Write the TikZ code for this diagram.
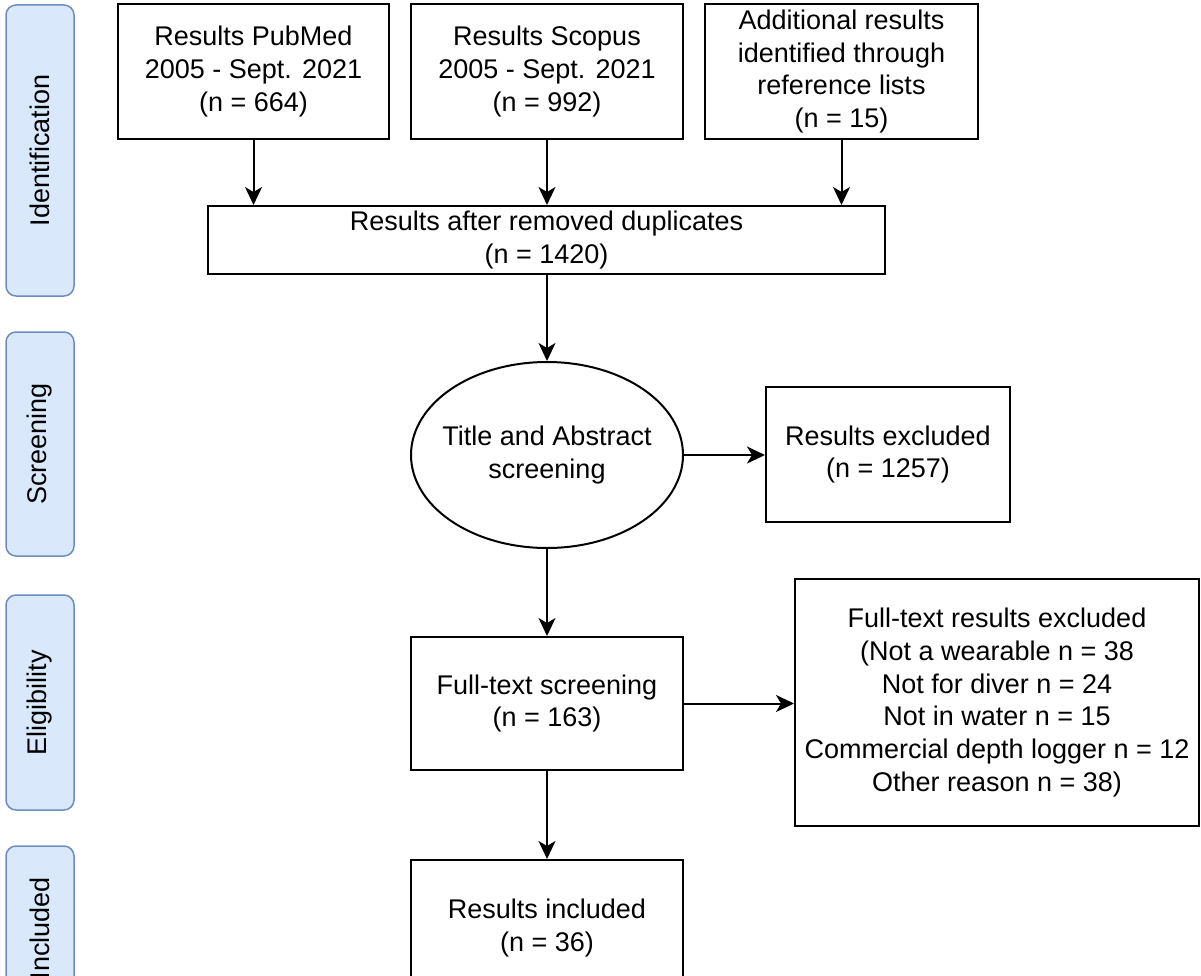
\documentclass[tikz,border=0pt]{standalone}
\usepackage{fontspec}
\setmainfont{Liberation Sans}
\usetikzlibrary{arrows.meta, shapes.geometric}

\definecolor{stagefill}{HTML}{DAE8FC}
\definecolor{stagedraw}{HTML}{6C8EBF}

\tikzset{
  box/.style={draw, line width=2pt, align=center, inner sep=0pt, font=\fontsize{27}{32.7}\selectfont},
  stage/.style={draw=stagedraw, fill=stagefill, line width=1.5pt, rounded corners=10pt, minimum height=68pt, inner sep=0pt, rotate=90, font=\fontsize{27}{32.7}\selectfont},
  arr/.style={line width=2pt, -{Stealth[length=18pt, width=17pt, inset=5pt]}},
}

\begin{document}
\begin{tikzpicture}[x=1pt, y=-1pt]
\useasboundingbox (0,0) rectangle (1201,976);
\clip (0,0) rectangle (1201,976);

\node[stage, minimum width=291pt] (ident) at (40,150.5) {Identification};
\node[stage, minimum width=224pt] (screening) at (40,444) {Screening};
\node[stage, minimum width=215pt] (elig) at (40,702.5) {Eligibility};
\node[stage, minimum width=164pt] (included) at (40,928) {Included};

\node[box, minimum width=271pt, minimum height=135pt] (pubmed) at (253.5,71.5) {Results PubMed\\2005 - Sept. 2021\\(n = 664)};
\node[box, minimum width=272pt, minimum height=135pt] (scopus) at (547,71.5) {Results Scopus\\2005 - Sept. 2021\\(n = 992)};
\node[box, minimum width=273pt, minimum height=135pt] (additional) at (841.5,71.5) {Additional results\\identified through\\reference lists\\(n = 15)};
\node[box, minimum width=677pt, minimum height=68pt] (dup) at (546.5,240) {Results after removed duplicates\\(n = 1420)};
\node[box, ellipse, inner xsep=-15pt, minimum width=272pt, minimum height=186pt] (titleabs) at (547,455) {Title and Abstract\\screening};
\node[box, minimum width=244pt, minimum height=135pt] (excl) at (888,454.5) {Results excluded\\(n = 1257)};
\node[box, minimum width=272pt, minimum height=133pt] (fulltext) at (547,703.5) {Full-text screening\\(n = 163)};
\node[box, minimum width=404pt, minimum height=247pt] (ftexcl) at (997,702.5) {Full-text results excluded\\(Not a wearable n = 38\\Not for diver n = 24\\Not in water n = 15\\Commercial depth logger n = 12\\Other reason n = 38)};
\node[box, minimum width=272pt, minimum height=136pt] (incl) at (547,928) {Results included\\(n = 36)};

\draw[arr] (pubmed.south) -- (pubmed.south |- dup.north);
\draw[arr] (scopus.south) -- (scopus.south |- dup.north);
\draw[arr] (additional.south) -- (additional.south |- dup.north);
\draw[arr] (dup.south -| titleabs.north) -- (titleabs.north);
\draw[arr] (titleabs.east) -- (titleabs.east -| excl.west);
\draw[arr] (titleabs.south) -- (fulltext.north);
\draw[arr] (fulltext.east) -- (fulltext.east -| ftexcl.west);
\draw[arr] (fulltext.south) -- (incl.north);
\end{tikzpicture}
\end{document}
